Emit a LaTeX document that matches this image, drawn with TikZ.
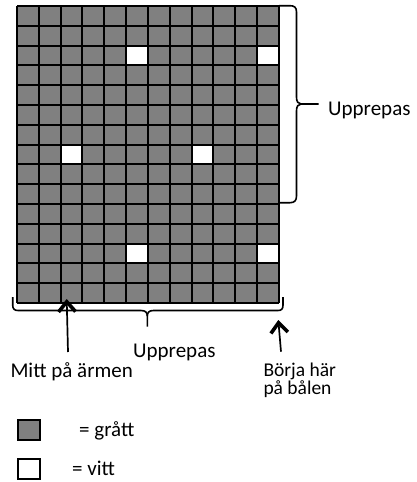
\documentclass[tikz,border=0pt]{standalone}
\usepackage{fontspec}
\setmainfont{Carlito}
\usetikzlibrary{arrows.meta}
\definecolor{cellgray}{RGB}{128,128,128}
\tikzset{
  gridline/.style={line width=2pt, black},
  bracepath/.style={line width=1.6pt, black, line join=round},
  pointer/.style={line width=1.7pt, -{Straight Barb[length=10pt,width=17pt,line width=3.6pt]}},
  bigtext/.style={font=\fontsize{21}{22}\selectfont, inner sep=0pt},
  smalltext/.style={font=\fontsize{19.5}{18}\selectfont, inner sep=0pt, align=left},
}
\begin{document}
\begin{tikzpicture}[x=1pt,y=-1pt]
\useasboundingbox (0,0) rectangle (416,482);
% grid
\def\gx{17}\def\gy{6}\def\cw{21.833}\def\ch{19.8}
\fill[cellgray] (\gx,\gy) rectangle ({\gx+12*\cw},{\gy+15*\ch});
\foreach \c/\r in {6/3,12/3,3/8,9/8,6/13,12/13}{
  \fill[white] ({\gx+(\c-1)*\cw},{\gy+(\r-1)*\ch}) rectangle ({\gx+\c*\cw},{\gy+\r*\ch});
}
\foreach \i in {0,...,12}{ \draw[gridline] ({\gx+\i*\cw},\gy) -- ({\gx+\i*\cw},{\gy+15*\ch}); }
\foreach \j in {0,...,15}{ \draw[gridline] (\gx,{\gy+\j*\ch}) -- ({\gx+12*\cw},{\gy+\j*\ch}); }
% right brace
\draw[bracepath] (279,5.7) -- (290,5.7) .. controls (294.5,5.7) and (296.5,7.5) .. (296.5,12)
  -- (296.5,97) .. controls (296.5,101.5) and (298,104) .. (301,104) -- (318.7,104);
\draw[bracepath] (301,104) .. controls (298,104) and (296.5,106.5) .. (296.5,111)
  -- (296.5,196) .. controls (296.5,200.5) and (294.5,202.7) .. (290,202.7) -- (279,202.7);
\node[bigtext, anchor=base west] (rep1) at (328,115) {Upprepas};
% bottom brace
\draw[bracepath] (12.7,297) -- (12.7,305) .. controls (12.7,309) and (14.5,310.5) .. (18,310.5)
  -- (141,310.5) .. controls (145.5,310.5) and (147.3,312.5) .. (147.3,316) -- (147.3,326.7);
\draw[bracepath] (147.3,316) .. controls (147.3,312.5) and (149,310.5) .. (153.5,310.5)
  -- (278,310.5) .. controls (281.5,310.5) and (283,309) .. (283,305) -- (283,297);
\node[bigtext, anchor=base west] (rep2) at (133,357) {Upprepas};
% arrows
\coordinate (a1s) at (68,352);
\coordinate (a1e) at (66.7,299);
\draw[pointer] (a1s) -- (a1e);
\node[bigtext, anchor=base] (mitt) at (71.7,377.3) {Mitt på ärmen};
\coordinate (a2s) at (281,351.7);
\coordinate (a2e) at (278.3,320);
\draw[pointer] (a2s) -- (a2e);
\node[smalltext, anchor=base west] (borja) at (263.3,376) {Börja här};
\node[smalltext, anchor=base west] (bal) at (263.3,394.5) {på bålen};
% legend
\node[draw, line width=2pt, fill=cellgray, minimum width=22pt, minimum height=20pt, inner sep=0pt] (lg) at (28.7,430) {};
\node[draw, line width=2pt, fill=white, minimum width=22pt, minimum height=20pt, inner sep=0pt] (lw) at (28.7,469) {};
\node[bigtext, anchor=base west] (tg) at (79,436) {= grått};
\node[bigtext, anchor=base west] (tw) at (72,475) {= vitt};
\end{tikzpicture}
\end{document}
